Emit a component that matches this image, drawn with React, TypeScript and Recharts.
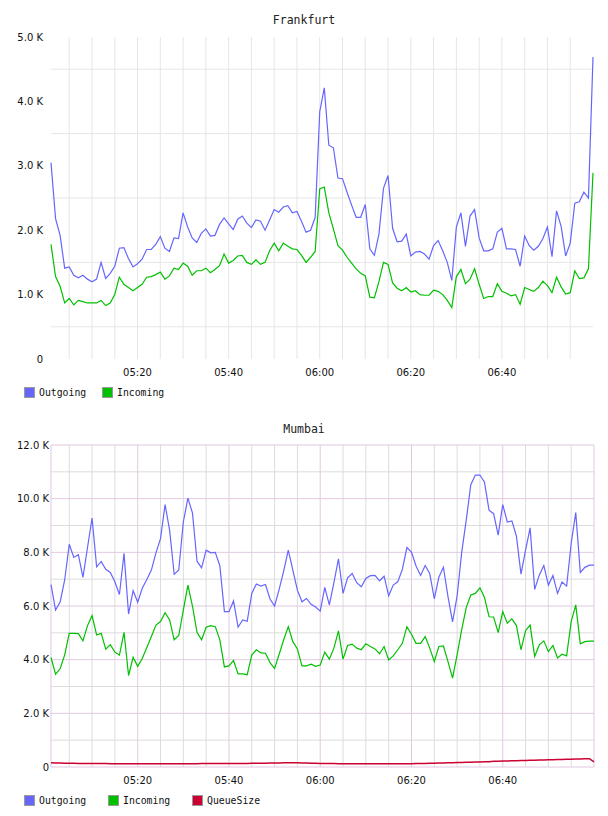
import React from 'react';
import { LineChart, Line, XAxis, YAxis, CartesianGrid } from 'recharts';

// one sample per minute, 05:01 .. 07:00
const minutes = Array.from({ length: 120 }, (_, i) => i + 1);
const timeTicks = [20, 40, 60, 80, 100];
const timeLabels = ['05:20', '05:40', '06:00', '06:20', '06:40'];

// Frankfurt, values in K
const fraOutgoing = [
  3.05, 2.18, 1.92, 1.41, 1.43, 1.30, 1.26, 1.30, 1.24, 1.20,
  1.24, 1.50, 1.25, 1.33, 1.44, 1.72, 1.73, 1.56, 1.43, 1.48,
  1.55, 1.70, 1.70, 1.78, 1.90, 1.72, 1.67, 1.88, 1.87, 2.27,
  2.05, 1.88, 1.81, 1.95, 2.02, 1.91, 1.92, 2.09, 2.19, 2.10,
  2.01, 2.17, 2.22, 2.11, 2.04, 2.16, 2.14, 2.00, 2.16, 2.32,
  2.28, 2.36, 2.38, 2.27, 2.29, 2.14, 1.97, 2.00, 2.20, 3.84,
  4.21, 3.32, 3.28, 2.81, 2.80, 2.59, 2.39, 2.20, 2.20, 2.40,
  1.71, 1.61, 1.94, 2.65, 2.85, 2.03, 1.82, 1.83, 1.94, 1.60,
  1.66, 1.67, 1.63, 1.55, 1.76, 1.84, 1.68, 1.50, 1.22, 2.05,
  2.27, 1.75, 2.22, 2.32, 1.88, 1.68, 1.68, 1.71, 1.97, 2.03,
  1.71, 1.71, 1.70, 1.44, 1.91, 1.76, 1.69, 1.75, 1.87, 2.05,
  1.59, 2.30, 2.06, 1.60, 1.80, 2.42, 2.44, 2.59, 2.50, 4.69,
];
const fraIncoming = [
  1.78, 1.28, 1.13, 0.87, 0.94, 0.84, 0.91, 0.89, 0.87, 0.87,
  0.87, 0.91, 0.83, 0.87, 1.00, 1.27, 1.16, 1.11, 1.06, 1.11,
  1.16, 1.27, 1.28, 1.31, 1.35, 1.24, 1.29, 1.41, 1.39, 1.49,
  1.44, 1.30, 1.37, 1.37, 1.41, 1.34, 1.39, 1.45, 1.63, 1.49,
  1.53, 1.60, 1.61, 1.50, 1.47, 1.54, 1.47, 1.50, 1.68, 1.80,
  1.68, 1.80, 1.75, 1.71, 1.70, 1.61, 1.50, 1.58, 1.67, 2.64,
  2.67, 2.27, 2.02, 1.76, 1.69, 1.58, 1.49, 1.40, 1.33, 1.29,
  0.96, 0.95, 1.20, 1.50, 1.47, 1.18, 1.10, 1.06, 1.11, 1.04,
  1.06, 1.00, 0.99, 0.99, 1.07, 1.05, 1.00, 0.91, 0.80, 1.28,
  1.39, 1.17, 1.24, 1.40, 1.16, 0.94, 0.97, 0.97, 1.17, 1.05,
  1.02, 0.98, 1.00, 0.85, 1.11, 1.08, 1.05, 1.11, 1.21, 1.14,
  1.03, 1.27, 1.12, 1.01, 1.03, 1.37, 1.25, 1.26, 1.40, 2.89,
];

// Mumbai, values in K
const mumOutgoing = [
  6.80, 5.85, 6.15, 6.97, 8.30, 7.81, 7.91, 7.07, 8.18, 9.28,
  7.46, 7.66, 7.37, 7.25, 6.90, 6.43, 7.96, 5.70, 6.57, 6.14,
  6.66, 6.99, 7.34, 7.98, 8.51, 9.78, 8.82, 7.18, 7.34, 9.13,
  10.02, 9.47, 7.67, 7.42, 8.08, 7.98, 8.00, 7.50, 5.79, 5.79,
  6.19, 5.21, 5.48, 5.43, 6.47, 6.82, 6.74, 6.80, 6.26, 6.00,
  6.62, 7.31, 8.08, 7.34, 6.59, 6.16, 6.28, 6.06, 5.96, 5.81,
  6.69, 6.04, 6.87, 7.76, 6.47, 7.05, 7.21, 6.87, 6.72, 7.03,
  7.13, 7.14, 6.94, 7.11, 6.38, 6.78, 6.90, 7.37, 8.18, 8.01,
  7.49, 7.14, 7.51, 7.21, 6.27, 7.07, 7.44, 6.35, 5.41, 6.37,
  7.99, 9.20, 10.52, 10.88, 10.88, 10.61, 9.57, 9.44, 8.64, 9.78,
  9.13, 9.17, 8.60, 7.19, 8.08, 8.91, 6.62, 7.15, 7.51, 6.78,
  7.14, 6.47, 6.89, 6.74, 8.33, 9.48, 7.25, 7.44, 7.52, 7.52,
];
const mumIncoming = [
  4.08, 3.46, 3.66, 4.18, 4.98, 4.98, 4.97, 4.70, 5.27, 5.64,
  4.92, 4.98, 4.39, 4.56, 4.28, 4.17, 5.02, 3.41, 4.09, 3.75,
  4.04, 4.45, 4.86, 5.29, 5.42, 5.75, 5.48, 4.74, 4.90, 5.85,
  6.78, 6.00, 5.02, 4.74, 5.21, 5.27, 5.23, 4.74, 3.73, 3.77,
  3.97, 3.47, 3.47, 3.44, 4.17, 4.37, 4.25, 4.24, 3.89, 3.67,
  4.20, 4.74, 5.23, 4.67, 4.40, 3.77, 3.77, 3.83, 3.75, 3.80,
  4.28, 4.02, 4.43, 5.07, 4.02, 4.53, 4.58, 4.43, 4.37, 4.59,
  4.49, 4.40, 4.22, 4.49, 3.99, 4.14, 4.37, 4.61, 5.23, 4.95,
  4.61, 4.61, 4.86, 4.43, 3.93, 4.49, 4.51, 3.93, 3.31, 4.18,
  5.11, 5.94, 6.41, 6.47, 6.68, 6.32, 5.60, 5.59, 5.01, 5.79,
  5.36, 5.52, 5.27, 4.37, 5.08, 5.29, 4.12, 4.55, 4.70, 4.30,
  4.53, 4.06, 4.20, 4.14, 5.42, 6.04, 4.59, 4.67, 4.69, 4.69,
];
const mumQueue = [
  0.16, 0.15, 0.15, 0.14, 0.14, 0.14, 0.13, 0.13, 0.13, 0.13,
  0.13, 0.13, 0.13, 0.12, 0.12, 0.12, 0.12, 0.12, 0.12, 0.12,
  0.12, 0.12, 0.12, 0.12, 0.12, 0.12, 0.12, 0.12, 0.12, 0.12,
  0.12, 0.12, 0.12, 0.13, 0.13, 0.13, 0.13, 0.13, 0.13, 0.13,
  0.13, 0.13, 0.13, 0.13, 0.14, 0.14, 0.14, 0.14, 0.15, 0.15,
  0.15, 0.16, 0.16, 0.16, 0.16, 0.15, 0.15, 0.14, 0.14, 0.13,
  0.13, 0.13, 0.13, 0.12, 0.12, 0.12, 0.12, 0.12, 0.12, 0.12,
  0.12, 0.12, 0.12, 0.12, 0.12, 0.12, 0.12, 0.12, 0.12, 0.12,
  0.13, 0.13, 0.13, 0.14, 0.14, 0.15, 0.15, 0.16, 0.16, 0.17,
  0.17, 0.18, 0.18, 0.19, 0.19, 0.20, 0.20, 0.21, 0.21, 0.22,
  0.22, 0.23, 0.23, 0.24, 0.24, 0.25, 0.25, 0.26, 0.26, 0.27,
  0.27, 0.28, 0.28, 0.29, 0.29, 0.30, 0.30, 0.31, 0.31, 0.19,
];

const fraTicks = [0, 1, 2, 3, 4, 5];
const fraGridY = [0.5, 1.5, 2.5, 3.5, 4.5];
const mumTicks = [0, 2, 4, 6, 8, 10, 12];
const mumMinorY = [1, 3, 5, 7, 9, 11];
const minorX = [5, 10, 15, 25, 30, 35, 45, 50, 55, 65, 70, 75, 85, 90, 95, 105, 110, 115];
const allX = [5, 10, 15, 20, 25, 30, 35, 40, 45, 50, 55, 60, 65, 70, 75, 80, 85, 90, 95, 100, 105, 110, 115];
const majorX = [1, 20, 40, 60, 80, 100, 120];
const xDomain = [1, 120];

const BLUE = '#6666ff';
const GREEN = '#00c000';
const RED = '#cc0033';

const fraData = minutes.map((m, i) => ({ m, out: fraOutgoing[i], inc: fraIncoming[i] }));
const mumData = minutes.map((m, i) => ({ m, out: mumOutgoing[i], inc: mumIncoming[i], q: mumQueue[i] }));

const fmtK = (v: number) => (v === 0 ? '0' : v.toFixed(1) + ' K');
const fmtTime = (v: number) => timeLabels[timeTicks.indexOf(v)] || '';

// map a value to pixels with the axis scale handed to the grid generator
const scaleOf = (axis: any, v: number, fallback: number) => {
  const s = axis && axis.scale;
  if (typeof s === 'function') return s(v);
  if (s && typeof s.map === 'function') return s.map(v);
  return fallback;
};
const gridY = (vals: number[], max: number) => ({ yAxis, offset }: any) =>
  vals.map((v) => scaleOf(yAxis, v, offset.top + offset.height * (1 - v / max)));
const gridX = (vals: number[]) => ({ xAxis, offset }: any) =>
  vals.map((v) =>
    scaleOf(xAxis, v, offset.left + (offset.width * (v - xDomain[0])) / (xDomain[1] - xDomain[0]))
  );

const tickStyle = { fontFamily: 'DejaVu Sans', fontSize: 10, fill: '#111' };
const mono = "'DejaVu Sans Mono', monospace";

const Title = ({ text, top }: { text: string; top: number }) => (
  <div style={{ position: 'absolute', left: 0, top, width: 608, textAlign: 'center', fontFamily: mono, fontSize: 11.5, lineHeight: '14px', color: '#222' }}>
    {text}
  </div>
);

const LegendRow = ({ items, top }: { items: { label: string; color: string; x: number }[]; top: number }) => (
  <>
    {items.map((it) => (
      <div key={it.label} style={{ position: 'absolute', left: it.x, top, display: 'flex', alignItems: 'center' }}>
        <div style={{ width: 9, height: 9, background: it.color, border: '1px solid #999' }} />
        <span style={{ marginLeft: 4, fontFamily: mono, fontSize: 9.8, lineHeight: '11px', color: '#111' }}>{it.label}</span>
      </div>
    ))}
  </>
);

const App = () => {
  return (
    <div style={{ position: 'absolute', left: 0, top: 0, width: 608, height: 816, background: '#fff' }}>
      <Title text="Frankfurt" top={13} />
      <div style={{ position: 'absolute', left: 0, top: 0 }}>
        <LineChart width={608} height={380} data={fraData} margin={{ top: 37, right: 15, bottom: 1, left: 0 }}>
          <CartesianGrid
            stroke="#e6e6e6"
            horizontalCoordinatesGenerator={gridY(fraGridY, 5)}
            verticalCoordinatesGenerator={gridX(allX)}
          />
          <XAxis
            dataKey="m"
            type="number"
            domain={xDomain}
            ticks={timeTicks}
            tickFormatter={fmtTime}
            axisLine={false}
            tickLine={false}
            tickSize={6}
            tickMargin={4}
            height={20}
            tick={tickStyle}
          />
          <YAxis
            domain={[0, 5]}
            ticks={fraTicks}
            tickFormatter={fmtK}
            axisLine={false}
            tickLine={false}
            tickSize={4}
            tickMargin={4}
            width={51}
            tick={tickStyle}
          />
          <Line dataKey="inc" stroke={GREEN} strokeWidth={1.2} dot={false} isAnimationActive={false} />
          <Line dataKey="out" stroke={BLUE} strokeWidth={1.2} dot={false} isAnimationActive={false} />
        </LineChart>
      </div>
      <LegendRow
        top={387}
        items={[
          { label: 'Outgoing', color: BLUE, x: 24 },
          { label: 'Incoming', color: GREEN, x: 102 },
        ]}
      />

      <Title text="Mumbai" top={422} />
      <div style={{ position: 'absolute', left: 0, top: 410 }}>
        <LineChart width={608} height={380} data={mumData} margin={{ top: 35, right: 14, bottom: 3, left: 0 }}>
          <CartesianGrid
            stroke="#dcdcdc"
            horizontalCoordinatesGenerator={gridY(mumMinorY, 12)}
            verticalCoordinatesGenerator={gridX(minorX)}
          />
          <CartesianGrid
            stroke="#e2c8e2"
            horizontalCoordinatesGenerator={gridY(mumTicks, 12)}
            verticalCoordinatesGenerator={gridX(majorX)}
          />
          <XAxis
            dataKey="m"
            type="number"
            domain={xDomain}
            ticks={timeTicks}
            tickFormatter={fmtTime}
            axisLine={false}
            tickLine={false}
            tickSize={6}
            tickMargin={4}
            height={20}
            tick={tickStyle}
          />
          <YAxis
            domain={[0, 12]}
            ticks={mumTicks}
            tickFormatter={fmtK}
            axisLine={false}
            tickLine={false}
            tickSize={1}
            tickMargin={1}
            width={51}
            tick={tickStyle}
          />
          <Line dataKey="inc" stroke={GREEN} strokeWidth={1.2} dot={false} isAnimationActive={false} />
          <Line dataKey="out" stroke={BLUE} strokeWidth={1.2} dot={false} isAnimationActive={false} />
          <Line dataKey="q" stroke={RED} strokeWidth={1.5} dot={false} isAnimationActive={false} />
        </LineChart>
      </div>
      <LegendRow
        top={795}
        items={[
          { label: 'Outgoing', color: BLUE, x: 24 },
          { label: 'Incoming', color: GREEN, x: 108 },
          { label: 'QueueSize', color: RED, x: 192 },
        ]}
      />
    </div>
  );
};

export default App;
